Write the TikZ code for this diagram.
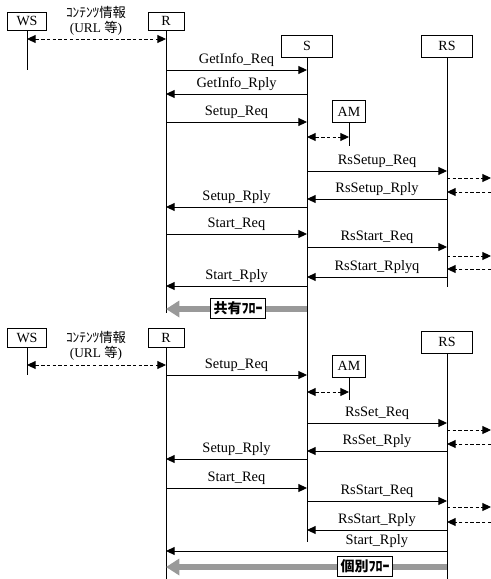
\documentclass[tikz,border=0pt]{standalone}
\usepackage{fontspec}
\setmainfont{Liberation Serif}
\newfontfamily\jpfont{Noto Sans CJK JP}
\usetikzlibrary{arrows.meta}

\tikzset{
  lifebox/.style={draw, fill=white, inner sep=0pt, line width=0.7pt,
    font=\fontsize{10.5}{12}\selectfont},
  life/.style={line width=0.7pt},
  msg/.style={-{Triangle[length=6.5pt,width=6pt]}, line width=0.7pt},
  dmsg/.style={{Triangle[length=6.5pt,width=6pt]}-{Triangle[length=6.5pt,width=6pt]},
    dash pattern=on 2.5pt off 1.8pt, line width=0.7pt},
  ext/.style={-{Triangle[length=6.5pt,width=6pt]},
    dash pattern=on 2.5pt off 1.8pt, line width=0.7pt},
  flow/.style={-{Triangle[length=10pt,width=12pt]}, line width=4.5pt, black!40},
  flowlabel/.style={draw, fill=white, line width=0.7pt, inner sep=2.5pt,
    font=\jpfont\bfseries\fontsize{10.5}{12}\selectfont},
  lbl/.style={above, inner sep=2pt, font=\fontsize{10.8}{12}\selectfont},
  info/.style={align=center, inner sep=0pt, font=\fontsize{10}{11}\selectfont}
}

\begin{document}
\begin{tikzpicture}[x=0.75pt, y=-0.75pt]
  \useasboundingbox (0,0) rectangle (491,579);
  \coordinate (edge) at (491,0);

  % Shared flow: lifeline heads
  \node[lifebox, minimum width=29pt, minimum height=13.5pt] (ws1) at (27,21) {WS};
  \node[lifebox, minimum width=27pt, minimum height=13.5pt] (r1) at (166,21) {R};
  \node[lifebox, minimum width=38pt, minimum height=16.5pt] (s) at (307,46) {S};
  \node[lifebox, minimum width=38pt, minimum height=16.5pt] (rs1) at (447,46) {RS};
  \node[lifebox, minimum width=25pt, minimum height=17pt] (am1) at (349,111.5) {AM};

  % Lifelines
  \draw[life] (ws1.south) -- (ws1 |- 0,70);
  \draw[life] (r1.south) -- (r1 |- 0,313);
  \draw[life] (s.south) -- (s |- 0,542);
  \draw[life] (rs1.south) -- (rs1 |- 0,287);
  \draw[life] (am1.south) -- (am1 |- 0,146);

  % Content info
  \node[info] (ci1) at (96,21) {{\jpfont ｺﾝﾃﾝﾂ情報}\\(URL {\jpfont 等})};
  \draw[dmsg] (ws1 |- 0,39) -- (r1 |- 0,39);
  \draw[dmsg] (s |- 0,137) -- (am1 |- 0,137);

  % Messages
  \foreach \a/\b/\y/\t in {r1/s/70/GetInfo\_Req, s/r1/94/GetInfo\_Rply,
      r1/s/122/Setup\_Req, s/rs1/171/RsSetup\_Req, rs1/s/199/RsSetup\_Rply,
      s/r1/207/Setup\_Rply, r1/s/234/Start\_Req, s/rs1/247/RsStart\_Req,
      rs1/s/277/RsStart\_Rplyq, s/r1/286/Start\_Rply} {
    \draw[msg] (\a |- 0,\y) -- node[lbl] {\t} (\b |- 0,\y);
  }
  \foreach \y in {178,256} {
    \draw[ext] (rs1 |- 0,\y) -- (edge |- 0,\y);
  }
  \foreach \y in {192,269} {
    \draw[ext] (edge |- 0,\y) -- (rs1 |- 0,\y);
  }

  % Shared flow arrow
  \draw[flow] (s |- 0,309) -- (r1 |- 0,309);
  \node[flowlabel] (shared) at (238,308) {共有ﾌﾛｰ};

  % Individual flow: lifeline heads
  \node[lifebox, minimum width=29pt, minimum height=14pt] (ws2) at (27,338) {WS};
  \node[lifebox, minimum width=27pt, minimum height=14pt] (r2) at (166,338) {R};
  \node[lifebox, minimum width=38pt, minimum height=16.5pt] (rs2) at (447,342) {RS};
  \node[lifebox, minimum width=25pt, minimum height=16.5pt] (am2) at (349,366) {AM};

  \draw[life] (ws2.south) -- (ws2 |- 0,375);
  \draw[life] (r2.south) -- (r2 |- 0,579);
  \draw[life] (rs2.south) -- (rs2 |- 0,579);
  \draw[life] (am2.south) -- (am2 |- 0,400);

  \node[info] (ci2) at (96,346) {{\jpfont ｺﾝﾃﾝﾂ情報}\\(URL {\jpfont 等})};
  \draw[dmsg] (ws2 |- 0,365) -- (r2 |- 0,365);
  \draw[dmsg] (s |- 0,392) -- (am2 |- 0,392);

  \foreach \a/\b/\y/\t in {r2/s/375/Setup\_Req, s/rs2/423/RsSet\_Req,
      rs2/s/451/RsSet\_Rply, s/r2/459/Setup\_Rply, r2/s/488/Start\_Req,
      s/rs2/501/RsStart\_Req, rs2/s/530/RsStart\_Rply} {
    \draw[msg] (\a |- 0,\y) -- node[lbl] {\t} (\b |- 0,\y);
  }
  \draw[msg] (rs2 |- 0,551) -- node[lbl, pos=0.25] {Start\_Rply} (r2 |- 0,551);
  \foreach \y in {430,507} {
    \draw[ext] (rs2 |- 0,\y) -- (edge |- 0,\y);
  }
  \foreach \y in {444,522} {
    \draw[ext] (edge |- 0,\y) -- (rs2 |- 0,\y);
  }

  % Individual flow arrow
  \draw[flow] (rs2 |- 0,567) -- (r2 |- 0,567);
  \node[flowlabel] (indiv) at (365,566) {個別ﾌﾛｰ};
\end{tikzpicture}
\end{document}
